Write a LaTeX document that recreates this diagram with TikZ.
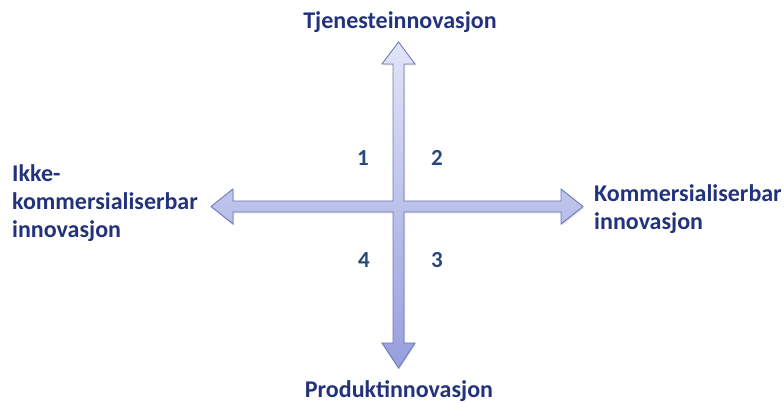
\documentclass[tikz,border=0pt]{standalone}
\usepackage{fontspec}
\setmainfont{Carlito}
\usetikzlibrary{shadows}
\definecolor{txtblue}{RGB}{34,50,125}
\definecolor{numblue}{RGB}{40,72,124}
\definecolor{arrline}{RGB}{110,122,180}
\definecolor{arrtop}{RGB}{226,229,248}
\definecolor{arrmid}{RGB}{200,204,240}
\definecolor{arrbot}{RGB}{150,158,222}
\tikzset{
  lbl/.style={font=\fontsize{24}{28}\selectfont\bfseries, text=txtblue, inner sep=0pt, align=left},
  num/.style={font=\fontsize{23}{27}\selectfont\bfseries, text=numblue, inner sep=0pt, anchor=base},
  cross/.style={draw=arrline, line width=0.9pt, line join=miter,
    top color=arrtop, middle color=arrmid, bottom color=arrbot,
    drop shadow={opacity=0.25, shadow xshift=1pt, shadow yshift=-1.5pt}}
}
\begin{document}
\begin{tikzpicture}[x=1pt,y=1pt]
\useasboundingbox (0,0) rectangle (784,403);
% cross of four arrows
\path[cross]
 (398.5,361) -- (415,339) -- (404,339) -- (404,202) -- (561,202) -- (561,214)
 -- (583,196.5) -- (561,179) -- (561,191) -- (404,191) -- (404,60) -- (415,60)
 -- (398.5,35) -- (382,60) -- (393,60) -- (393,191) -- (233,191) -- (233,179)
 -- (211,196.5) -- (233,214) -- (233,202) -- (393,202) -- (393,339) -- (382,339) -- cycle;
% labels
\node[lbl, anchor=base] (top) at (400,374) {Tjenesteinnovasjon};
\node[lbl, anchor=base] (bot) at (399,5) {Produktinnovasjon};
\node[lbl, anchor=base west] (left) at (12,165) {Ikke-\\kommersialiserbar\\innovasjon};
\node[lbl, anchor=base west] (right) at (594,173) {Kommersialiserbar\\innovasjon};
% numbers
\node[num] (n1) at (363,237) {1};
\node[num] (n2) at (437,237) {2};
\node[num] (n4) at (364,135) {4};
\node[num] (n3) at (437,135) {3};
\end{tikzpicture}
\end{document}
